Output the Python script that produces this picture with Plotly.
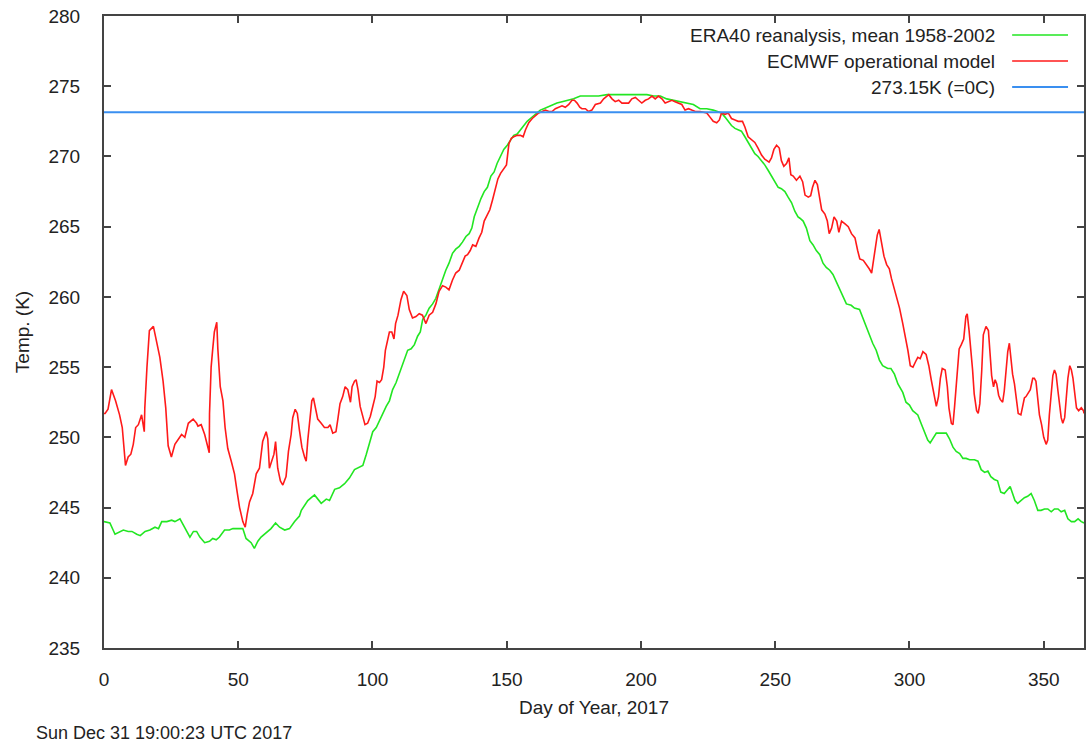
import plotly.graph_objects as go

# ---------------- data ----------------
red_day = [0.0, 0.4, 1.5, 2.8, 4.3, 5.8, 6.8, 7.4, 8.0, 9.0, 10.0, 10.9, 11.8, 12.8, 14.0, 15.0, 15.2, 16.0, 16.9, 18.4,
           19.6, 20.8, 22.0, 23.0, 23.9, 25.1, 26.4, 27.6, 28.9, 30.1, 31.4, 33.2, 34.5,
           35.0, 36.2, 37.5, 38.5, 39.2, 39.3, 39.9, 40.5, 41.1, 42.0, 42.4, 43.3, 44.3, 45.1, 46.1, 47.4, 48.6, 49.6,
           50.5, 51.7, 52.6, 53.3, 54.2, 55.4, 56.7, 57.9, 59.1, 60.4, 61.0, 61.6, 62.5, 63.3, 63.9, 64.7, 65.7, 66.6,
           67.8, 68.7, 69.7, 70.3, 71.2,
           72.0, 72.8, 73.7, 74.7, 75.3, 75.9, 76.5, 77.4, 78.0, 78.7, 79.6, 80.9, 82.1, 83.4, 84.2, 85.2, 86.4, 87.1,
           87.9, 88.9, 89.8, 90.8, 91.8, 92.4, 93.3, 93.9, 94.6, 95.4, 96.4, 97.2, 98.2, 99.2, 100.1, 101.0, 101.7,
           102.6, 103.4, 104.2, 104.8, 105.5, 106.3, 107.2, 108.0,
           108.6, 109.5, 110.6, 111.6, 112.8, 113.7, 114.9, 116.2, 117.4, 118.6, 119.9, 121.1, 122.4, 123.6, 124.8,
           126.1, 127.3, 128.5, 129.8, 131.0, 132.3, 133.5, 134.5, 135.4, 136.4, 137.3, 138.5, 139.7, 140.7, 141.6,
           142.6, 143.7, 144.7, 145.7,
           146.7, 147.7, 148.9, 149.9, 150.8, 151.7, 152.6, 153.9, 155.1, 156.1, 157.0, 158.2, 159.5, 160.7, 161.9,
           163.2, 164.4, 165.7, 166.9, 168.1, 169.4, 170.6, 171.8, 173.1, 174.3, 175.2, 176.2, 177.2, 178.0, 179.3,
           180.5, 181.7, 183.0,
           184.2, 184.9, 186.1, 188.0, 189.2, 190.4, 191.7, 192.9, 194.1, 195.4, 196.6, 197.9, 199.1, 200.3, 201.6,
           202.8, 204.1, 205.3, 206.5, 207.8, 209.0, 210.3, 211.5, 212.7, 214.0, 215.2, 216.4, 217.7, 218.9, 220.2,
           222.0, 224.5, 225.7, 226.9, 228.2, 229.2, 230.0, 231.3, 232.5, 233.7, 235.0, 236.2, 237.8, 238.7, 239.9,
           241.2, 242.4, 243.6, 244.9, 246.1, 247.7, 248.6, 249.5, 250.5, 251.5, 252.3, 253.2, 254.2, 255.1, 255.8,
           256.7,
           257.9, 259.2, 260.2, 261.1, 262.3, 263.2, 263.9, 264.8, 265.7, 266.4, 267.3, 268.5, 269.4, 270.1, 271.0,
           271.9, 272.9, 273.7, 274.7, 276.0, 277.2, 278.4, 279.7, 280.7, 281.5, 282.8, 284.0, 285.0, 285.9, 286.5,
           287.1, 288.0, 288.7, 289.6, 290.5, 291.5, 292.5, 293.3,
           294.2, 295.0, 296.3, 297.5, 298.5, 299.4, 300.3, 301.3, 302.3, 303.1, 304.0, 305.0, 306.2, 307.2, 308.1,
           309.0, 310.0, 310.8, 311.5, 312.2, 313.3, 314.1, 314.7, 315.6, 316.2, 316.8, 317.7, 318.5, 319.3, 320.2,
           321.0, 321.5, 322.2, 322.8, 323.5, 324.1, 325.0, 325.6, 326.2, 326.9, 327.5, 328.5, 329.4,
           330.0, 330.6, 331.3, 331.9, 332.5, 333.2, 333.8, 334.7, 335.3, 335.9, 336.6, 337.2, 337.8, 338.4, 339.1,
           339.7, 340.5, 341.5, 342.1, 342.8, 343.4, 344.3, 345.0, 345.9, 346.5, 347.1, 347.8, 348.4, 349.2, 350.0,
           350.9, 351.5, 352.1, 352.8, 353.4, 354.0, 354.6, 355.3, 355.9, 356.5, 357.1, 357.8, 358.4, 359.0, 359.7,
           360.3, 360.9, 361.5, 362.2, 363.0, 364.0, 364.8, 365.0]
red_temp = [251.7, 251.7, 252.0, 253.4, 252.6, 251.6, 250.7, 249.5, 248.0, 248.6, 248.8, 249.5, 250.7, 250.9, 251.6,
            250.4, 252.1, 255.0, 257.6, 257.9, 256.9, 255.7, 254.0, 252.1, 249.4, 248.6, 249.5, 249.8, 250.2, 250.0,
            251.0, 251.3, 251.0,
            250.8, 250.9, 250.2, 249.4, 248.9, 251.7, 255.0, 256.3, 257.5, 258.2, 256.3, 253.6, 252.6, 250.7, 249.2,
            248.3, 247.4, 246.1, 245.0, 244.0, 243.6, 244.5, 245.4, 246.0, 247.4, 247.8, 249.7, 250.4, 249.9, 247.8,
            248.3, 248.8, 249.7, 247.8, 246.9, 246.6, 247.2, 249.0, 250.2, 251.4, 252.0,
            251.7, 250.5, 249.3, 248.6, 248.3, 249.8, 251.0, 252.6, 252.8, 252.2, 251.3, 251.0, 250.7, 250.7, 250.9,
            250.3, 250.4, 251.3, 252.4, 252.9, 253.6, 253.4, 252.5, 253.6, 254.0, 254.1, 253.4, 252.2, 251.5, 250.9,
            251.0, 251.5, 252.2, 252.9, 254.0, 253.9, 254.1, 255.0, 256.2, 256.9, 257.5, 257.5, 257.0,
            258.1, 258.7, 259.8, 260.4, 260.1, 259.1, 258.5, 258.6, 258.8, 258.7, 258.1, 258.7, 258.9, 259.5, 260.4,
            260.8, 260.7, 260.5, 261.2, 261.7, 261.9, 262.4, 262.9, 263.0, 263.3, 263.7, 263.6, 264.2, 264.6, 265.4,
            265.8, 266.2, 266.9, 267.7,
            268.4, 268.8, 269.1, 269.4, 270.9, 271.3, 271.4, 271.5, 271.5, 271.4, 271.9, 272.4, 272.7, 272.9, 273.1,
            273.2, 273.3, 273.2, 273.2, 273.4, 273.5, 273.6, 273.5, 273.7, 274.0, 274.0, 273.8, 273.5, 273.4, 273.4,
            273.2, 273.3, 273.7,
            273.8, 273.8, 274.1, 274.4, 274.1, 273.9, 274.0, 273.8, 273.8, 273.8, 274.1, 274.2, 274.0, 273.8, 274.0,
            274.1, 274.3, 274.1, 274.3, 274.1, 273.8, 273.9, 274.0, 273.9, 273.8, 273.7, 273.3, 273.4, 273.3, 273.2,
            273.2, 273.1, 272.8, 272.5, 272.4, 272.6, 273.1, 273.0, 273.1, 272.7, 272.6, 272.5, 272.5, 272.1, 271.4,
            271.2, 271.0, 270.6, 270.1, 269.8, 269.6, 269.9, 270.5, 270.8, 270.6, 269.7, 269.3, 269.5, 269.9, 268.7,
            268.6,
            268.3, 268.6, 268.2, 267.25, 267.1, 267.2, 267.8, 268.3, 268.0, 267.1, 266.2, 265.9, 265.4, 264.5, 264.9,
            265.7, 265.4, 264.6, 265.4, 265.2, 265.0, 264.5, 264.2, 263.3, 262.7, 262.6, 262.3, 262.0, 261.7, 262.4,
            263.3, 264.4, 264.8, 263.8, 262.9, 262.3, 262.0, 261.3,
            260.7, 260.2, 259.2, 258.1, 257.2, 256.2, 255.1, 255.0, 255.4, 255.7, 255.6, 256.1, 255.9, 255.1, 254.1,
            253.2, 252.2, 252.9, 254.2, 254.9, 254.8, 253.6, 252.1, 251.0, 250.9, 252.2, 254.5, 256.3, 256.6, 257.0,
            258.6, 258.8, 257.6, 256.4, 254.8, 253.1, 251.9, 251.7, 252.4, 254.7, 257.3, 257.9, 257.6,
            256.0, 254.4, 253.6, 254.1, 253.8, 253.0, 252.7, 252.5, 253.3, 254.9, 256.1, 256.7, 255.4, 254.5, 253.8,
            252.8, 251.7, 251.6, 252.1, 252.8, 252.9, 253.2, 253.4, 254.2, 254.2, 254.0, 252.8, 251.6, 250.9, 250.0,
            249.5, 249.8, 251.6, 253.3, 254.4, 254.8, 254.5, 253.3, 252.2, 251.4, 251.0, 251.4, 252.8, 254.2, 255.1,
            254.8, 254.2, 253.3, 252.1, 251.9, 252.1, 251.9, 251.7]

green_day = [0.0, 2.2, 4.1, 6.0, 7.2, 9.0, 10.4, 12.2, 13.5, 15.3, 17.1, 19.0, 20.3, 21.5, 23.4, 25.2, 26.4, 28.3,
             29.5, 30.8, 32.0, 33.3, 34.5, 35.7, 37.5, 39.3, 40.5, 41.8, 43.0, 44.9, 46.7, 48.0, 49.8, 51.7, 52.9,
             54.8, 56.0, 57.3, 58.5, 60.4, 62.2, 63.9, 65.4, 67.3, 69.1, 71.0, 72.8, 73.5, 75.9, 78.4, 79.6, 80.9,
             82.8, 84.0, 85.9, 87.7, 89.6, 91.4, 93.3, 95.2, 96.4, 97.7, 98.9, 100.1, 101.4, 102.6, 103.8, 105.1,
             106.3, 107.5, 108.8, 110.0, 110.6, 111.9, 113.1, 114.4, 115.6, 116.8, 117.8, 118.7, 119.9, 121.1, 122.4,
             123.6, 124.8, 126.1, 127.3, 128.5, 129.8, 131.0, 132.3, 133.5, 134.8, 136.0, 137.0, 137.9, 139.1, 140.4,
             141.6, 142.8, 144.1, 145.3, 146.4, 147.7, 148.9, 150.2, 151.4, 152.6, 153.9, 155.1, 156.4, 157.6, 158.8,
             160.1, 161.3, 162.5, 163.8, 165.0, 166.9, 168.7, 170.6, 172.4, 174.9, 177.4, 179.8, 182.3, 184.2, 187.4,
             189.8, 193.5, 197.2, 202.2, 204.7, 207.2, 209.6, 212.1, 214.6, 217.1, 219.5, 222.0, 224.5, 226.9, 228.8,
             230.0, 231.3, 232.5, 233.7, 235.0, 236.2, 237.4, 238.7, 239.9, 241.2, 242.4, 243.6, 244.9, 246.1, 247.4,
             248.6, 249.9, 251.1, 252.3, 253.6, 254.8, 256.1, 257.3, 258.5, 259.2, 260.4, 261.6, 262.9, 264.1, 265.3,
             266.6, 267.8, 269.0, 270.3, 271.5, 272.7, 274.0, 275.2, 276.5, 278.3, 279.5, 281.4, 282.6, 283.9, 285.1,
             286.3, 287.6, 288.8, 290.0, 291.9, 293.1, 294.4, 295.7, 296.3, 297.5, 298.7, 300.0, 301.2, 303.1, 304.3,
             305.6, 306.8, 307.7, 308.7, 310.0, 311.8, 313.7, 314.9, 316.2, 317.4, 318.7, 319.9, 321.1, 322.4, 324.2,
             325.5, 326.7, 328.0, 329.2, 330.3, 331.6, 332.8, 334.0, 335.3, 336.6, 337.5, 338.4, 339.3, 340.3, 341.5,
             342.8, 344.0, 345.3, 346.5, 347.8, 349.0, 350.3, 351.5, 352.8, 354.0, 355.3, 356.5, 357.8, 359.0, 360.3,
             361.5, 362.8, 364.0, 365.0]
green_temp = [244.0, 243.9, 243.1, 243.3, 243.4, 243.3, 243.3, 243.1, 243.0, 243.3, 243.4, 243.6, 243.5, 244.0, 244.0,
              244.1, 244.0, 244.2, 243.8, 243.3, 242.9, 243.3, 243.3, 242.9, 242.5, 242.6, 242.8, 242.7, 242.9, 243.4,
              243.4, 243.5, 243.5, 243.5, 242.8, 242.5, 242.1, 242.6, 242.9, 243.2, 243.5, 243.9, 243.6, 243.4, 243.5,
              244.0, 244.4, 244.8, 245.5, 245.9, 245.6, 245.3, 245.6, 245.5, 246.3, 246.4, 246.7, 247.1, 247.7, 247.9,
              248.0, 248.8, 249.7, 250.4, 250.7, 251.2, 251.7, 252.2, 252.6, 253.4, 253.9, 254.5, 254.9, 255.6, 256.2,
              256.3, 256.6, 257.2, 257.5, 258.4, 258.7, 259.2, 259.5, 259.9, 260.6, 261.3, 261.9, 262.4, 263.1, 263.4,
              263.6, 263.9, 264.3, 264.5, 264.9, 265.7, 266.4, 267.0, 267.5, 267.8, 268.6, 268.9, 269.5, 270.0, 270.5,
              270.8, 271.2, 271.5, 271.6, 271.9, 272.2, 272.5, 272.7, 272.9, 273.1, 273.3, 273.4, 273.5, 273.7, 273.8,
              273.9, 274.0, 274.1, 274.3, 274.3, 274.3, 274.3, 274.4, 274.4, 274.4, 274.4, 274.4, 274.3, 274.3, 274.1,
              274.0, 273.9, 273.8, 273.7, 273.4, 273.4, 273.3, 273.2, 273.1, 272.8, 272.5, 272.2, 272.0, 271.9, 271.8,
              271.4, 271.0, 270.6, 270.2, 270.0, 269.7, 269.4, 269.0, 268.6, 268.2, 267.8, 267.7, 267.5, 267.1, 266.7,
              266.1, 265.7, 265.6, 265.4, 264.9, 264.0, 263.7, 263.3, 263.0, 262.4, 262.1, 261.9, 261.6, 261.1, 260.5,
              260.0, 259.5, 259.4, 259.2, 259.1, 258.5, 257.9, 257.3, 256.7, 256.2, 255.5, 255.1, 254.9, 254.9, 254.5,
              253.8, 253.6, 253.2, 252.5, 252.3, 251.9, 251.6, 251.0, 250.4, 249.8, 249.6, 249.9, 250.3, 250.3, 250.3,
              249.9, 249.3, 249.0, 248.85, 248.5, 248.5, 248.4, 248.4, 248.3, 247.7, 247.5, 247.6, 247.2, 247.0, 246.9,
              246.1, 246.0, 246.3, 246.5, 246.0, 245.5, 245.3, 245.5, 245.7, 245.8, 246.0, 245.5, 244.8, 244.8, 244.9,
              244.9, 244.7, 244.9, 244.9, 244.7, 244.8, 244.2, 244.0, 244.0, 244.2, 244.0, 243.9]

freezing_day = [0, 365]
freezing_temp = [273.15, 273.15]

series_names = ["ERA40 reanalysis, mean 1958-2002", "ECMWF operational model", "273.15K (=0C)"]
x_ticks = [0, 50, 100, 150, 200, 250, 300, 350]
y_ticks = [235, 240, 245, 250, 255, 260, 265, 270, 275, 280]
x_title = "Day of Year, 2017"
y_title = "Temp. (K)"
timestamp = "Sun Dec 31 19:00:23 UTC 2017"

# ---------------- styling ----------------
GREEN = "#22e622"
RED = "#ff1a1a"
BLUE = "#3a8ff0"
FONT = "Liberation Sans, Arial, sans-serif"
TXT = "#222222"
AXIS = "#444444"
FS = 19

W, H = 1090, 744
L, R, T, B = 104, 1086, 16, 648

fig = go.Figure()
fig.add_trace(go.Scatter(x=green_day, y=green_temp, mode="lines", name=series_names[0],
                         line=dict(color=GREEN, width=1.6), showlegend=False))
fig.add_trace(go.Scatter(x=red_day, y=red_temp, mode="lines", name=series_names[1],
                         line=dict(color=RED, width=1.6), showlegend=False))
fig.add_trace(go.Scatter(x=freezing_day, y=freezing_temp, mode="lines", name=series_names[2],
                         line=dict(color=BLUE, width=2), showlegend=False))


def px_x(px):
    return (px - L) / (R - L)


def px_y(py):
    return 1 - (py - T) / (B - T)


colors = [GREEN, RED, BLUE]
legend_rows = [35, 61, 87]
annotations = []
shapes = []
for name, col, py in zip(series_names, colors, legend_rows):
    annotations.append(dict(x=px_x(999), y=px_y(py), xref="paper", yref="paper", text=name,
                            showarrow=False, xanchor="right", yanchor="middle",
                            font=dict(family=FONT, size=FS, color=TXT)))
    shapes.append(dict(type="line", xref="paper", yref="paper", x0=px_x(1014), x1=px_x(1070),
                       y0=px_y(py), y1=px_y(py), line=dict(color=col, width=1.6 if col != BLUE else 2)))

annotations.append(dict(x=px_x(34), y=px_y(733), xref="paper", yref="paper", text=timestamp,
                        showarrow=False, xanchor="left", yanchor="middle",
                        font=dict(family=FONT, size=18, color=TXT)))

fig.update_layout(
    width=W, height=H,
    margin=dict(l=L, r=W - R, t=T, b=H - B, pad=0),
    paper_bgcolor="white", plot_bgcolor="white",
    font=dict(family=FONT, size=FS, color=TXT),
    annotations=annotations, shapes=shapes,
    showlegend=False,
)
fig.update_xaxes(range=[0, 365], tickvals=x_ticks, ticks="inside", ticklen=7, tickwidth=1.5,
                 tickcolor=AXIS, showline=True, linecolor=AXIS, linewidth=2, mirror="ticks",
                 showgrid=False, zeroline=False, ticklabelstandoff=13,
                 tickfont=dict(family=FONT, size=FS, color=TXT),
                 title=dict(text=x_title, standoff=12, font=dict(family=FONT, size=FS, color=TXT)))
fig.update_yaxes(range=[235, 280], tickvals=y_ticks, ticks="inside", ticklen=7, tickwidth=1.5,
                 tickcolor=AXIS, showline=True, linecolor=AXIS, linewidth=2, mirror="ticks",
                 showgrid=False, zeroline=False, ticklabelstandoff=18,
                 tickfont=dict(family=FONT, size=FS, color=TXT),
                 title=dict(text=y_title, standoff=14, font=dict(family=FONT, size=FS, color=TXT)))

fig.write_html("out.html")
